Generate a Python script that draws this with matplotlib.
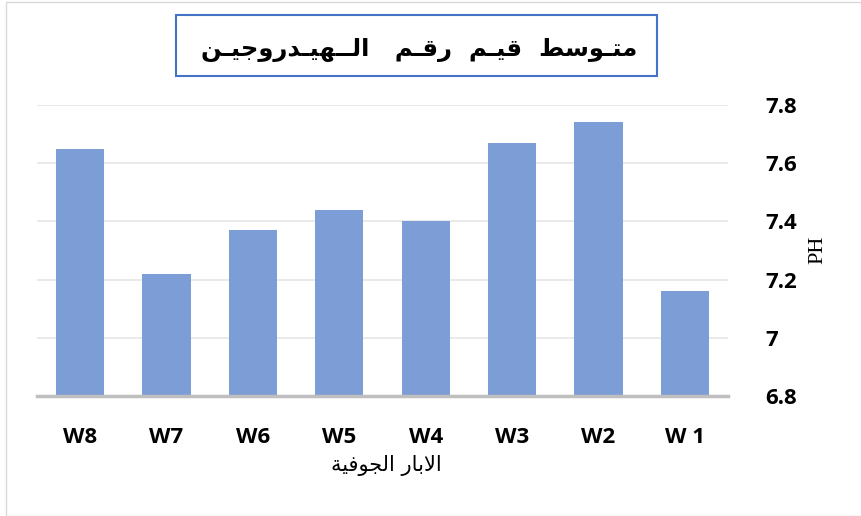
import matplotlib
matplotlib.use("Agg")
import matplotlib.pyplot as plt
from matplotlib.patches import Rectangle

wells = ["W8", "W7", "W6", "W5", "W4", "W3", "W2", "W 1"]
ph_values = [7.65, 7.22, 7.37, 7.44, 7.40, 7.67, 7.74, 7.16]
y_ticks = [6.8, 7.0, 7.2, 7.4, 7.6, 7.8]
y_tick_labels = ["6.8", "7", "7.2", "7.4", "7.6", "7.8"]

title_text = "متـوسط  قيـم  رقـم   الــهيـدروجيـن"
xlabel_text = "الابار الجوفية"
ylabel_text = "PH"

# isolated, final, initial, medial presentation forms
FORMS = {
    "ا": ("\ufe8d", "\ufe8e", None, None),
    "ب": ("\ufe8f", "\ufe90", "\ufe91", "\ufe92"),
    "ة": ("\ufe93", "\ufe94", None, None),
    "ت": ("\ufe95", "\ufe96", "\ufe97", "\ufe98"),
    "ج": ("\ufe9d", "\ufe9e", "\ufe9f", "\ufea0"),
    "د": ("\ufea9", "\ufeaa", None, None),
    "ر": ("\ufead", "\ufeae", None, None),
    "س": ("\ufeb1", "\ufeb2", "\ufeb3", "\ufeb4"),
    "ط": ("\ufec1", "\ufec2", "\ufec3", "\ufec4"),
    "ف": ("\ufed1", "\ufed2", "\ufed3", "\ufed4"),
    "ق": ("\ufed5", "\ufed6", "\ufed7", "\ufed8"),
    "ل": ("\ufedd", "\ufede", "\ufedf", "\ufee0"),
    "م": ("\ufee1", "\ufee2", "\ufee3", "\ufee4"),
    "ن": ("\ufee5", "\ufee6", "\ufee7", "\ufee8"),
    "ه": ("\ufee9", "\ufeea", "\ufeeb", "\ufeec"),
    "و": ("\ufeed", "\ufeee", None, None),
    "ي": ("\ufef1", "\ufef2", "\ufef3", "\ufef4"),
    "ـ": ("ـ", "ـ", "ـ", "ـ"),
}


def joins_left(ch):
    return ch in FORMS and FORMS[ch][2] is not None


def shape(text):
    out = []
    i = 0
    n = len(text)
    while i < n:
        ch = text[i]
        if ch not in FORMS:
            out.append(ch)
            i += 1
            continue
        prev_joins = i > 0 and joins_left(text[i - 1])
        if ch == "ل" and i + 1 < n and text[i + 1] == "ا":
            out.append("\ufefc" if prev_joins else "\ufefb")
            i += 2
            continue
        next_joins = i + 1 < n and text[i + 1] in FORMS and joins_left(ch)
        iso, fin, ini, med = FORMS[ch]
        if prev_joins and next_joins:
            out.append(med)
        elif prev_joins:
            out.append(fin)
        elif next_joins:
            out.append(ini)
        else:
            out.append(iso)
        i += 1
    return "".join(out)[::-1]


tick_font = ["Open Sans", "DejaVu Sans"]

fig = plt.figure(figsize=(8.62, 5.16), dpi=100)
ax = fig.add_axes([37 / 862, 1 - 396 / 516, 691 / 862, 291 / 516])

x = list(range(len(wells)))
ax.bar(x, ph_values, width=0.56, color="#7C9DD6", zorder=2)

ax.set_xlim(-0.5, len(wells) - 0.5)
ax.set_ylim(6.8, 7.8)
ax.set_yticks(y_ticks)
ax.set_yticklabels(y_tick_labels)
ax.yaxis.tick_right()
ax.set_xticks(x)
ax.set_xticklabels(wells)
ax.tick_params(axis="both", length=0, labelsize=16)
ax.tick_params(axis="y", pad=27)
ax.tick_params(axis="x", pad=22)
for lbl in ax.get_xticklabels() + ax.get_yticklabels():
    lbl.set_fontweight("bold")
    lbl.set_fontfamily(tick_font)

ax.grid(axis="y", color="#E6E6E6", linewidth=1.2, zorder=0)
for side in ["top", "left", "right"]:
    ax.spines[side].set_visible(False)
ax.spines["bottom"].set_color("#BFBFBF")
ax.spines["bottom"].set_linewidth(2.5)
ax.spines["bottom"].set_zorder(3)

fig.text(818 / 862, 1 - 250 / 516, ylabel_text, rotation=90, ha="center",
         va="center", fontsize=16, family="Liberation Serif")
fig.text(386 / 862, 1 - 466 / 516, shape(xlabel_text), ha="center",
         va="center", fontsize=15, family="DejaVu Sans")

fig.patches.append(Rectangle((176 / 862, 1 - 76 / 516), 481 / 862, 61 / 516,
                             transform=fig.transFigure, fill=False,
                             edgecolor="#4472C4", linewidth=1.5))
fig.text(419 / 862, 1 - 50 / 516, shape(title_text), ha="center",
         va="center", fontsize=17.5, fontweight="bold", family="DejaVu Sans")

fig.patches.append(Rectangle((6 / 862, 0), 1, 1 - 2 / 516,
                             transform=fig.transFigure, fill=False,
                             edgecolor="#D9D9D9", linewidth=1))

fig.savefig("out.png", dpi=100)
